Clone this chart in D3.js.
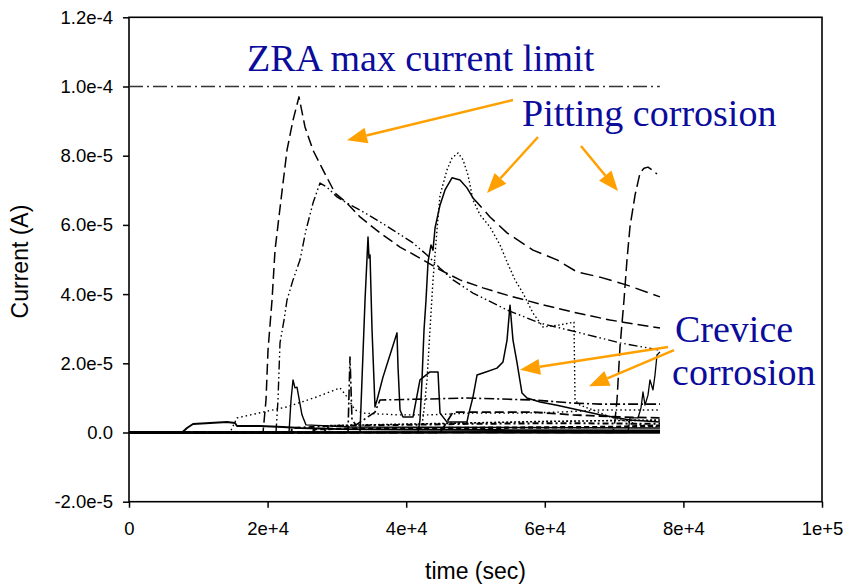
<!DOCTYPE html>
<html>
<head>
<meta charset="utf-8">
<script src="https://cdn.jsdelivr.net/npm/d3@7"></script>
<style>
  body { margin: 0; background: #fff; }
  svg { display: block; }
</style>
</head>
<body>
<svg id="chart" width="844" height="584"></svg>
<script>
// ZRA coupled-current records: time (s) vs current (A)

const xTicks = [0, 20000, 40000, 60000, 80000, 100000];
const xTickLabels = ["0", "2e+4", "4e+4", "6e+4", "8e+4", "1e+5"];
const yTicks = [-2e-5, 0, 2e-5, 4e-5, 6e-5, 8e-5, 1e-4, 1.2e-4];
const yTickLabels = ["-2.0e-5", "0.0", "2.0e-5", "4.0e-5", "6.0e-5", "8.0e-5", "1.0e-4", "1.2e-4"];

// instrument ceiling
const limitLine = [[0, 1.0e-4], [76600, 1.0e-4]];

// pitting transients
const pitDashed = [[0,0],[19340,0],[19770,9.4e-6],[20060,2.38e-5],[20640,3.83e-5],[21070,5.27e-5],[21930,6.72e-5],[22800,8.16e-5],[23670,9.03e-5],[24530,9.70e-5],[25400,8.83e-5],[26550,8.16e-5],[27990,7.59e-5],[29730,6.92e-5],[31460,6.63e-5],[33330,6.23e-5],[36220,5.77e-5],[39110,5.36e-5],[41990,5.04e-5],[44880,4.70e-5],[47760,4.41e-5],[51080,4.18e-5],[54550,3.97e-5],[59310,3.71e-5],[64070,3.48e-5],[69410,3.25e-5],[76620,3.02e-5]];
const pitDashDot = [[0,0],[21210,0],[21500,9.4e-6],[21790,2.59e-5],[22370,3.25e-5],[22800,3.83e-5],[23670,4.41e-5],[24680,4.99e-5],[25540,5.85e-5],[26550,6.63e-5],[27560,7.21e-5],[28570,7.09e-5],[30010,6.81e-5],[31460,6.63e-5],[33330,6.43e-5],[35790,6.14e-5],[38100,5.85e-5],[40980,5.48e-5],[43000,5.13e-5],[44880,4.75e-5],[46750,4.41e-5],[49640,4.03e-5],[54550,3.54e-5],[59310,3.16e-5],[65080,2.88e-5],[70850,2.59e-5],[76620,2.38e-5]];
const pitSolidRise = [[0,0],[41700,0],[41990,3.6e-6],[42280,1.52e-5],[42570,2.96e-5],[42860,3.83e-5],[43150,4.93e-5],[43580,5.42e-5],[43870,5.27e-5],[44160,5.91e-5],[44880,6.57e-5],[45600,7.01e-5],[46610,7.36e-5],[47760,7.30e-5],[48770,7.07e-5],[49640,6.78e-5]];
const pitSolidTail = [[49640,6.78e-5],[52090,6.23e-5],[54550,5.77e-5],[58300,5.27e-5],[61760,4.99e-5],[64650,4.64e-5],[67970,4.49e-5],[71860,4.26e-5],[76620,3.92e-5]];
const pitDotted = [[0,0],[42140,0],[42570,6.5e-6],[43000,1.52e-5],[43430,2.96e-5],[43870,4.41e-5],[44440,5.85e-5],[44880,6.86e-5],[45890,7.59e-5],[46610,7.93e-5],[47480,8.08e-5],[48200,7.88e-5],[48920,7.44e-5],[49640,6.72e-5],[50650,6.29e-5],[52090,5.94e-5],[53540,5.42e-5],[54550,4.93e-5],[55700,4.41e-5],[56850,4.03e-5],[58300,3.45e-5],[59740,3.05e-5],[62190,3.11e-5],[64210,3.19e-5],[64360,9.4e-6],[65080,7.9e-6],[66960,6.5e-6],[69410,4.5e-6],[73740,2.2e-6],[76620,1.6e-6]];
const pitLate = [[0,0],[69840,0],[70130,3.6e-6],[70420,9.4e-6],[70850,2.47e-5],[71430,3.83e-5],[71860,4.99e-5],[72290,5.94e-5],[73020,6.86e-5],[73740,7.50e-5],[74320,7.64e-5],[74890,7.67e-5],[75470,7.59e-5],[76190,7.47e-5]];

// crevice and low-level records
const crevSpikes = [[0,0],[33330,0],[33620,1.52e-5],[34060,3.83e-5],[34490,5.65e-5],[34630,5.04e-5],[34780,5.13e-5],[35070,2.96e-5],[35500,7.4e-6],[35790,9.4e-6],[36650,1.60e-5],[37660,2.24e-5],[38670,2.88e-5],[38820,1.89e-5],[39110,6.5e-6],[39540,4.5e-6],[40980,4.5e-6],[41990,1.52e-5],[43430,1.75e-5],[44590,1.75e-5],[44880,5.6e-6],[45890,3.0e-6],[48770,3.0e-6],[48920,4.5e-6],[49640,1.03e-5],[50220,1.66e-5],[51080,1.72e-5],[53100,1.86e-5],[53970,2.04e-5],[54550,2.67e-5],[54980,3.68e-5],[55410,2.67e-5],[55990,2.02e-5],[56710,1.14e-5],[57430,9.97e-6],[59310,8.8e-6],[61760,7.9e-6],[67970,5.1e-6],[72290,3.6e-6],[76620,3.0e-6]];
const lowSolid = [[0,0],[7650,0],[8370,1.3e-6],[9240,2.46e-6],[14140,3.03e-6],[15300,2.75e-6],[15580,1.88e-6],[18900,1.88e-6],[22220,1.59e-6],[24680,1.3e-6],[30450,1.0e-6],[39110,8.7e-7],[53540,7.2e-7],[76620,5.8e-7]];
const lowDotted = [[0,0],[14570,0],[15580,4.2e-6],[19340,5.9e-6],[22800,7.4e-6],[27130,1.03e-5],[30450,1.29e-5],[31460,1.03e-5],[32610,6.5e-6],[33770,5.6e-6],[38670,5.1e-6],[43430,5.1e-6],[49210,5.6e-6],[56420,5.6e-6],[62190,5.9e-6],[67970,6.5e-6],[76620,6.5e-6]];
const flatDashDot = [[0,0],[31600,0],[31890,2.18e-5],[32180,3.6e-6],[32760,2.2e-6],[35500,5.9e-6],[36220,9.4e-6],[43430,9.7e-6],[48770,9.97e-6],[58300,9.4e-6],[64070,8.5e-6],[67970,8.2e-6],[76620,8.2e-6]];
const midDash = [[0,0],[44880,0],[45600,2.2e-6],[46750,5.9e-6],[58300,5.9e-6],[64070,5.1e-6],[70850,4.5e-6],[76620,4.2e-6]];
const spikeSmall = [[0,0],[23090,0],[23380,9.4e-6],[23670,1.52e-5],[23950,1.29e-5],[24240,1.31e-5],[24960,5.1e-6],[25540,2.2e-6],[31890,1.6e-6],[76620,1.3e-6]];
const lowDashDot = [[0,0],[23230,0],[23670,1.3e-6],[29000,1.9e-6],[39110,2.2e-6],[49210,2.5e-6],[62190,2.7e-6],[76620,2.5e-6]];
const lowShortDash = [[0,0],[26000,0],[27000,1.0e-6],[40000,1.2e-6],[55000,1.4e-6],[70000,1.6e-6],[76620,2.0e-6]];
const lowDense = [[0,0],[28000,0],[29000,2.0e-6],[45000,2.6e-6],[60000,3.2e-6],[76620,3.6e-6]];
const rightCrevice = [[0,0],[72000,0],[72290,4.2e-6],[73450,4.2e-6],[73880,7.1e-6],[74170,1.17e-5],[74460,7.9e-6],[74890,1.08e-5],[75180,1.52e-5],[75610,1.23e-5],[75900,1.66e-5],[76190,2.24e-5],[76620,2.33e-5]];
const baseA = [[0,0],[76620,3e-7]];
const baseB = [[0,0],[76620,-1e-7]];

// annotation text (anchor at start of baseline, data units)
const notes = [
  { text: "ZRA max current limit", t: 17030, i: 1.045e-4 },
  { text: "Pitting corrosion", t: 56710, i: 8.86e-5 },
  { text: "Crevice", t: 78790, i: 2.62e-5 },
  { text: "corrosion", t: 78360, i: 1.37e-5 }
];
// pointer arrows: tail -> head, data units
const pointers = [
  [55410, 9.61e-5, 31460, 8.45e-5],
  [59020, 8.54e-5, 51660, 6.92e-5],
  [65220, 8.28e-5, 70560, 6.98e-5],
  [77780, 2.47e-5, 56420, 1.81e-5],
  [78640, 2.38e-5, 66380, 1.34e-5]
];

const svg = d3.select("#chart");
const x = d3.scaleLinear().domain([0, 1e5]).range([129, 822]);
const y = d3.scaleLinear().domain([-2e-5, 1.2e-4]).range([501.7, 17.3]);

const sans = "'Liberation Sans', Arial, sans-serif";
const serif = "'Liberation Serif', 'Times New Roman', serif";

// frame
svg.append("rect")
  .attr("x", x(0)).attr("y", y(1.2e-4))
  .attr("width", x(1e5) - x(0)).attr("height", y(-2e-5) - y(1.2e-4))
  .attr("fill", "none").attr("stroke", "#000").attr("stroke-width", 1.6);

// axes
const xAxis = d3.axisBottom(x).tickValues(xTicks)
  .tickFormat((d, i) => xTickLabels[i]).tickSize(6).tickPadding(14);
const gx = svg.append("g").attr("transform", `translate(0,${y(-2e-5)})`).call(xAxis);
const yAxis = d3.axisLeft(y).tickValues(yTicks)
  .tickFormat((d, i) => yTickLabels[i]).tickSize(6).tickPadding(10);
const gy = svg.append("g").attr("transform", `translate(${x(0)},0)`).call(yAxis);
[gx, gy].forEach(g => {
  g.select(".domain").remove();
  g.selectAll(".tick line").attr("stroke", "#000").attr("stroke-width", 1.5);
  g.selectAll(".tick text").attr("fill", "#000")
    .style("font-family", sans).style("font-size", "18.5px");
});

svg.append("text").attr("x", (x(0) + x(1e5)) / 2).attr("y", 579)
  .attr("text-anchor", "middle").style("font-family", sans).style("font-size", "23px")
  .text("time (sec)");
svg.append("text")
  .attr("transform", `translate(28,${(y(1.2e-4) + y(-2e-5)) / 2 + 2}) rotate(-90)`)
  .attr("text-anchor", "middle").style("font-family", sans).style("font-size", "23px")
  .text("Current (A)");

// records
const line = d3.line().x(d => x(d[0])).y(d => y(d[1]));
const records = [
  { data: baseA, dash: null, w: 1.6 },
  { data: baseB, dash: null, w: 1.6 },
  { data: lowShortDash, dash: "5,3", w: 2.4 },
  { data: lowDense, dash: "2,2", w: 1.6 },
  { data: lowDashDot, dash: "6,3,2,3", w: 2 },
  { data: lowSolid, dash: null, w: 1.8 },
  { data: spikeSmall, dash: null, w: 1.4 },
  { data: lowDotted, dash: "1.5,3", w: 1.4 },
  { data: midDash, dash: "9,4", w: 1.8 },
  { data: flatDashDot, dash: "10,3,2,3", w: 1.6 },
  { data: rightCrevice, dash: null, w: 1.3 },
  { data: crevSpikes, dash: null, w: 1.5 },
  { data: pitDotted, dash: "1.5,2.5", w: 1.4 },
  { data: pitDashDot, dash: "9,3,1.5,3,1.5,3", w: 1.4 },
  { data: pitDashed, dash: "11,5", w: 1.5 },
  { data: pitSolidRise, dash: null, w: 1.5 },
  { data: pitSolidTail, dash: "13,6", w: 1.5 },
  { data: pitLate, dash: "12,5", w: 1.5 },
  { data: limitLine, dash: "14,4,2,4", w: 1.6, color: "#333" }
];
svg.append("g").selectAll("path").data(records).join("path")
  .attr("d", d => line(d.data))
  .attr("fill", "none")
  .attr("stroke", d => d.color || "#000")
  .attr("stroke-width", d => d.w)
  .attr("stroke-dasharray", d => d.dash)
  .attr("stroke-linejoin", "round");

// annotations
svg.append("g").selectAll("text").data(notes).join("text")
  .attr("x", d => x(d.t)).attr("y", d => y(d.i))
  .attr("fill", "#0b0b9c")
  .style("font-family", serif).style("font-size", "38px")
  .text(d => d.text);

const orange = "#ffa000";
const ag = svg.append("g");
pointers.forEach(p => {
  const x1 = x(p[0]), y1 = y(p[1]), x2 = x(p[2]), y2 = y(p[3]);
  const ang = Math.atan2(y2 - y1, x2 - x1);
  const L = 20, W = 8;
  const bx = x2 - L * Math.cos(ang), by = y2 - L * Math.sin(ang);
  ag.append("line").attr("x1", x1).attr("y1", y1).attr("x2", bx).attr("y2", by)
    .attr("stroke", orange).attr("stroke-width", 2.5);
  const px = -Math.sin(ang) * W, py = Math.cos(ang) * W;
  ag.append("path")
    .attr("d", `M${x2},${y2}L${bx + px},${by + py}L${bx - px},${by - py}Z`)
    .attr("fill", orange);
});
</script>
</body>
</html>
